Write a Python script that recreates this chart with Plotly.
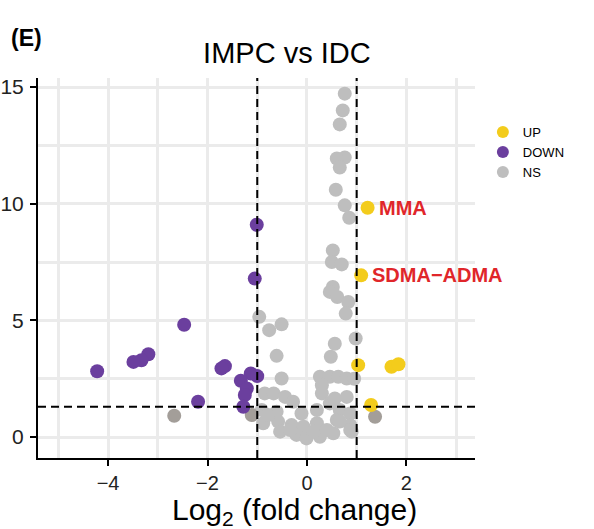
import plotly.graph_objects as go

# ---------------- data ----------------
up_x = [1.22, 1.09, 1.03, 1.70, 1.84, 1.29]
up_y = [9.83, 6.93, 3.08, 3.01, 3.12, 1.37]

down_x = [-1.01, -1.05, -2.47, -3.19, -3.33, -3.49, -4.22, -1.65, -1.72,
          -1.13, -1.00, -1.33, -1.21, -1.25, -2.19, -1.28]
down_y = [9.10, 6.79, 4.81, 3.55, 3.29, 3.22, 2.82, 3.04, 2.94,
          2.72, 2.61, 2.41, 2.08, 1.80, 1.51, 1.30]

ns_x = [0.76, 0.72, 0.66, 0.76, 0.60, 0.66, 0.58, 0.76, 0.85, 0.52, 0.50,
        0.70, 0.52, 0.46, 0.61, 0.83, 0.78, -0.96, -0.51, -0.76, 0.56, 0.98,
        0.48, -0.61, -0.51, 0.26, 0.46, 0.63, 0.80, 0.95, 0.30, -0.85, -0.67,
        -0.44, 0.30, 0.80, -0.28, 0.46, 0.56, -0.91, -0.61, -0.11, 0.20, 0.66,
        0.87, -0.88, -0.58, -0.31, -0.07, 0.20, 0.60, 0.87, -0.54, -0.21,
        -0.01, 0.26, 0.53, 0.90, -0.34, 0.13, 0.40, -0.78, 0.66, 0.87]
ns_y = [14.72, 14.00, 13.40, 11.98, 11.94, 11.55, 10.60, 9.93, 9.40, 8.00,
        7.50, 7.40, 6.43, 6.22, 6.00, 5.79, 5.29, 5.15, 4.83, 4.58, 4.00,
        4.22, 3.44, 3.48, 2.51, 2.58, 2.58, 2.58, 2.51, 2.50, 2.22, 1.87,
        1.87, 1.72, 1.87, 1.72, 1.51, 1.44, 1.65, 1.16, 1.08, 1.01, 1.16,
        1.16, 1.01, 0.59, 0.66, 0.51, 0.44, 0.59, 0.73, 0.51, 0.23, 0.09,
        -0.06, 0.01, 0.16, 0.23, 0.30, 0.23, 0.30, 0.94, 0.66, 0.30]

ns_fc_x = [-2.67, -1.11, 1.37]
ns_fc_y = [0.91, 0.94, 0.87]

label_names = ["MMA", "SDMA\u2212ADMA"]
label_idx = [0, 1]

fc_cut = [-1, 1]
p_cut = 1.301

x_ticks = [-4, -2, 0, 2]
y_ticks = [0, 5, 10, 15]

# ---------------- figure ----------------
FONT = "Liberation Sans, Arial, Helvetica, sans-serif"
C_UP, C_DOWN, C_NS, C_NS2 = "#F3CC1C", "#6B3F9E", "#BEBEBE", "#A39E99"
MS = 14

fig = go.Figure()
fig.add_trace(go.Scatter(x=ns_x, y=ns_y, mode="markers", name="NS",
                         marker=dict(color=C_NS, size=MS), legendrank=3))
fig.add_trace(go.Scatter(x=ns_fc_x, y=ns_fc_y, mode="markers", name="NS",
                         marker=dict(color=C_NS2, size=MS), showlegend=False))
fig.add_trace(go.Scatter(x=down_x, y=down_y, mode="markers", name="DOWN",
                         marker=dict(color=C_DOWN, size=MS), legendrank=2))
fig.add_trace(go.Scatter(x=up_x, y=up_y, mode="markers", name="UP",
                         marker=dict(color=C_UP, size=MS), legendrank=1))

dash_line = dict(color="black", width=2, dash="8px,5px")
for v in fc_cut:
    fig.add_shape(type="line", xref="x", yref="paper", x0=v, x1=v, y0=0, y1=1,
                  line=dash_line, layer="above")
fig.add_shape(type="line", xref="paper", yref="y", x0=0, x1=1, y0=p_cut, y1=p_cut,
              line=dash_line, layer="above")

for name, i in zip(label_names, label_idx):
    fig.add_annotation(x=up_x[i], y=up_y[i], text="<b>%s</b>" % name, showarrow=False,
                       xanchor="left", yanchor="middle", xshift=9,
                       font=dict(family=FONT, size=20, color="#E0262A"))

fig.add_annotation(xref="paper", yref="paper", x=-0.066, y=1.105, text="<b>(E)</b>",
                   showarrow=False, xanchor="left", yanchor="middle",
                   font=dict(family=FONT, size=23, color="black"))

# x-axis title (placed as in the reference, slightly right of the panel centre)
fig.add_annotation(xref="paper", yref="paper", x=0.586, y=-0.087,
                   text="Log<sub>2</sub> (fold change)", showarrow=False,
                   xanchor="center", yanchor="top",
                   font=dict(family=FONT, size=30, color="black"))

axis_common = dict(showline=True, linecolor="black", linewidth=2, ticks="outside",
                   ticklen=6, tickwidth=1.5, tickcolor="black", zeroline=False,
                   gridcolor="#EBEBEB", gridwidth=3, automargin=False)

fig.update_xaxes(range=[-5.41, 3.38], tickvals=x_ticks,
                 ticktext=["\u2212" + str(abs(t)) if t < 0 else str(t) for t in x_ticks],
                 tickfont=dict(family=FONT, size=20, color="#222222"),
                 minor=dict(dtick=1, tick0=0, showgrid=True, gridcolor="#EBEBEB",
                            gridwidth=2.5, ticks=""),
                 **axis_common)
fig.update_yaxes(range=[-0.9, 15.39], tickvals=y_ticks,
                 tickfont=dict(family=FONT, size=21, color="#222222"),
                 ticklabelstandoff=2,
                 minor=dict(dtick=2.5, tick0=0, showgrid=True, gridcolor="#EBEBEB",
                            gridwidth=2.5, ticks=""),
                 **axis_common)

fig.update_layout(
    width=594, height=529,
    margin=dict(l=38, r=119, t=78, b=71),
    paper_bgcolor="white", plot_bgcolor="white",
    title=dict(text="IMPC vs IDC", x=0.483, xanchor="center", y=0.9, yanchor="middle",
               font=dict(family=FONT, size=29, color="black")),
    legend=dict(x=1.018, y=0.897, xanchor="left", yanchor="top",
                font=dict(family=FONT, size=13, color="black"),
                itemsizing="constant", tracegroupgap=0),
    font=dict(family=FONT),
)

# remove the default page margin so the figure sits at the window's corner
fig.write_html("out.html", config={"displayModeBar": False},
               post_script="document.body.style.margin='0';")
